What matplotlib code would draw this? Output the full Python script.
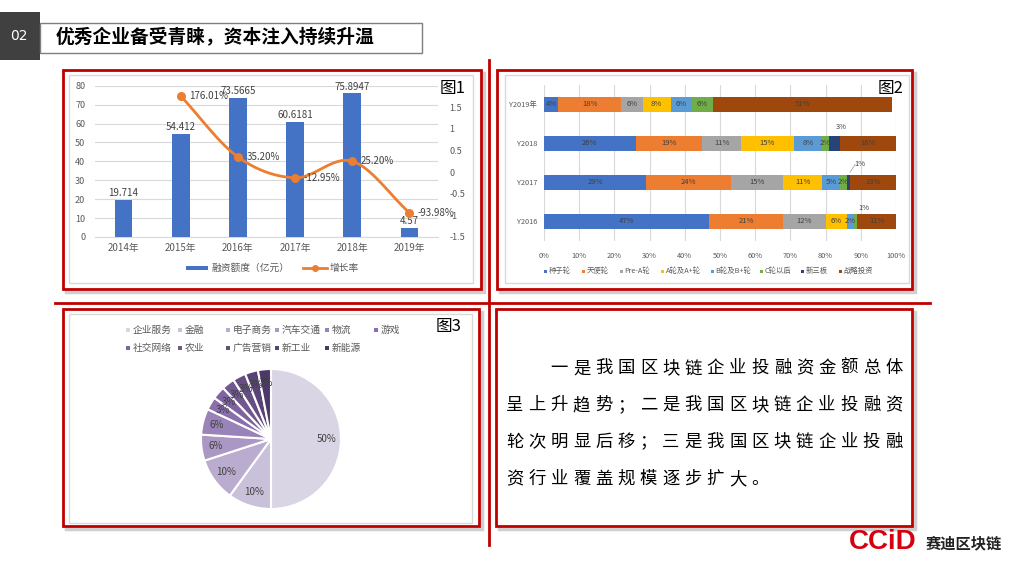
import numpy as np
import matplotlib
matplotlib.use('Agg')
import matplotlib.pyplot as plt
from matplotlib.patches import Rectangle
from matplotlib.colors import to_rgb, to_hex

plt.rcParams['font.family'] = ['Noto Sans CJK SC', 'DejaVu Sans']

W, H = 1013, 568

# ---------------- data ----------------
title_text = '优秀企业备受青睐，资本注入持续升温'
section_no = '02'

years = ['2014年', '2015年', '2016年', '2017年', '2018年', '2019年']
funding = [19.714, 54.412, 73.5665, 60.6181, 75.8947, 4.57]
funding_labels = ['19.714', '54.412', '73.5665', '60.6181', '75.8947', '4.57']
growth_years_idx = [1, 2, 3, 4, 5]
growth = [1.7601, 0.3520, -0.1295, 0.2520, -0.9398]
growth_labels = ['176.01%', '35.20%', '-12.95%', '25.20%', '-93.98%']
left_ticks = [0, 10, 20, 30, 40, 50, 60, 70, 80]
right_ticks = [-1.5, -1, -0.5, 0, 0.5, 1, 1.5]
right_tick_labels = ['-1.5', '-1', '-0.5', '0', '0.5', '1', '1.5']

rounds = ['种子轮', '天使轮', 'Pre-A轮', 'A轮及A+轮', 'B轮及B+轮', 'C轮以后', '新三板', '战略投资']
stack_years = ['Y2016', 'Y2017', 'Y2018', 'Y2019年']
share_2016 = [47, 21, 12, 6, 2, 1, 0, 11]
share_2017 = [29, 24, 15, 11, 5, 2, 1, 13]
share_2018 = [26, 19, 11, 15, 8, 2, 3, 16]
share_2019 = [4, 18, 6, 8, 6, 6, 0, 51]

industries = ['企业服务', '金融', '电子商务', '汽车交通', '物流', '游戏',
              '社交网络', '农业', '广告营销', '新工业', '新能源']
industry_share = [50, 10, 10, 6, 6, 3, 3, 3, 3, 3, 3]

summary_lines = ['一是我国区块链企业投融资金额总体',
                 '呈上升趋势；二是我国区块链企业投融资',
                 '轮次明显后移；三是我国区块链企业投融',
                 '资行业覆盖规模逐步扩大。']

# ---------------- styles ----------------
RED = '#C00000'
GRID = '#d9d9d9'
TICK = '#595959'
LAB = '#404040'
round_colors = ['#4472C4', '#ED7D31', '#A5A5A5', '#FFC000', '#5B9BD5', '#70AD47', '#264478', '#9E480E']


def rect(x0, y0, x1, y1):
    return [x0 / W, 1 - y1 / H, (x1 - x0) / W, (y1 - y0) / H]


fig = plt.figure(figsize=(W / 100, H / 100), dpi=100)
bg = fig.add_axes([0, 0, 1, 1])
bg.set_xlim(0, W)
bg.set_ylim(H, 0)
bg.axis('off')

# header
bg.add_patch(Rectangle((0, 12), 40, 48, color='#404040', lw=0))
bg.text(19, 36, section_no, color='white', fontsize=10, ha='center', va='center',
        family=['DejaVu Sans'])
bg.add_patch(Rectangle((40, 22.5), 382, 30, fill=False, ec='#7f7f7f', lw=1))
bg.text(56, 37.5, title_text, fontsize=13.5, fontweight='bold', ha='left', va='center', color='black')

# red cross
bg.plot([489, 489], [60, 545], color=RED, lw=2)
bg.plot([55, 930], [303, 303], color=RED, lw=2)

# panels with shadow
for (x0, y0, x1, y1) in [(63, 70, 481, 289), (497, 70, 912, 289), (63, 309, 479, 526), (496, 309, 912, 526)]:
    bg.add_patch(Rectangle((x0 + 2.5, y0 + 2.5), x1 - x0, y1 - y0, fill=False, ec='#cfcfcf', lw=2.5))
    bg.add_patch(Rectangle((x0, y0), x1 - x0, y1 - y0, facecolor='white', ec=RED, lw=2))
# inner chart borders
for (x0, y0, x1, y1) in [(69, 75, 473, 283), (505, 75, 909, 283), (69, 314, 472, 523)]:
    bg.add_patch(Rectangle((x0, y0), x1 - x0, y1 - y0, fill=False, ec=GRID, lw=1))

bg.text(453, 88, '图1', fontsize=12, ha='center', va='center', color='black')
bg.text(891, 88, '图2', fontsize=12, ha='center', va='center', color='black')
bg.text(449, 326, '图3', fontsize=12, ha='center', va='center', color='black')

# ---------------- chart 1 ----------------
ax1 = fig.add_axes(rect(95, 85.7, 438, 237))
ax1.patch.set_alpha(0)
x = np.arange(len(years))
ax1.bar(x, funding, width=0.31, color='#4472C4', zorder=3)
ax1.set_xlim(-0.5, 5.5)
ax1.set_ylim(0, 80)
ax1.set_yticks(left_ticks)
ax1.set_xticks(x)
ax1.set_xticklabels(years)
ax1.grid(axis='y', color=GRID, lw=0.8, zorder=0)
for s in ['top', 'right', 'left']:
    ax1.spines[s].set_visible(False)
ax1.spines['bottom'].set_color(GRID)
ax1.tick_params(axis='both', length=0, labelsize=6.5, labelcolor=TICK)
ax1.tick_params(axis='x', pad=4, labelsize=7)
ax1.tick_params(axis='y', pad=7)
for xi, v, lab in zip(x, funding, funding_labels):
    ax1.text(xi, v + 1.0, lab, ha='center', va='bottom', fontsize=7, color=LAB, zorder=5)

ax1r = ax1.twinx()
ax1r.set_ylim(-1.5, 2.0)
ax1r.set_yticks(right_ticks)
ax1r.set_yticklabels(right_tick_labels)
for s in ax1r.spines.values():
    s.set_visible(False)
ax1r.tick_params(axis='y', length=0, labelsize=6.5, labelcolor=TICK, pad=8)


def catmull(xs, ys, n=30):
    P = np.column_stack([xs, ys]).astype(float)
    P = np.vstack([2 * P[0] - P[1], P, 2 * P[-1] - P[-2]])
    out = []
    t = np.linspace(0, 1, n)[:, None]
    for i in range(1, len(P) - 2):
        p0, p1, p2, p3 = P[i - 1], P[i], P[i + 1], P[i + 2]
        seg = 0.5 * (2 * p1 + (-p0 + p2) * t + (2 * p0 - 5 * p1 + 4 * p2 - p3) * t ** 2
                     + (-p0 + 3 * p1 - 3 * p2 + p3) * t ** 3)
        out.append(seg)
    return np.vstack(out)


curve = catmull(growth_years_idx, growth)
ax1r.plot(curve[:, 0], curve[:, 1], color='#ED7D31', lw=2, zorder=4)
ax1r.plot(growth_years_idx, growth, 'o', color='#ED7D31', ms=5.5, zorder=5)
for xi, v, lab in zip(growth_years_idx, growth, growth_labels):
    ax1r.annotate(lab, (xi, v), xytext=(6, 0), textcoords='offset points', va='center',
                  ha='left', fontsize=7, color=LAB, zorder=6)

# legend chart 1
bg.add_patch(Rectangle((186, 266.3), 22, 4, color='#4472C4', lw=0))
bg.text(211, 268, '融资额度（亿元）', fontsize=7, color=TICK, va='center', ha='left')
bg.plot([303, 327], [268, 268], color='#ED7D31', lw=2)
bg.plot([315], [268], 'o', color='#ED7D31', ms=4)
bg.text(330, 268, '增长率', fontsize=7, color=TICK, va='center', ha='left')

# ---------------- chart 2 ----------------
ax2 = fig.add_axes(rect(544, 85, 896, 241))
ax2.patch.set_alpha(0)
shares = np.array([share_2016, share_2017, share_2018, share_2019], dtype=float)
yy = np.arange(len(stack_years))
left = np.zeros(len(stack_years))
outside = {(0, 5): (8, 13, False), (1, 6): (11, 18, True), (2, 6): (7, 16, False)}
for j, (rname, col) in enumerate(zip(rounds, round_colors)):
    vals = shares[:, j]
    ax2.barh(yy, vals, left=left, height=0.41, color=col, zorder=3)
    for i in range(len(stack_years)):
        v = vals[i]
        if v <= 0:
            continue
        cx = left[i] + v / 2
        if (i, j) in outside:
            dx, dy, leader = outside[(i, j)]
            ax2.annotate(f'{v:.0f}%', (cx, yy[i]), xytext=(dx * 0.72, dy * 0.72),
                         textcoords='offset points', ha='center', va='center',
                         fontsize=5.5, color=LAB, zorder=5)
            if leader:
                ax2.annotate('', (cx, yy[i] + 0.205), xytext=(dx * 0.72 - 2, dy * 0.72 - 14 * 0.72 + 6),
                             textcoords='offset points',
                             arrowprops=dict(arrowstyle='-', color='#a6a6a6', lw=0.6), zorder=5)
        else:
            ax2.text(cx, yy[i], f'{v:.0f}%', ha='center', va='center', fontsize=5.5, color=LAB, zorder=5)
    left += vals
ax2.set_xlim(0, 100)
ax2.set_ylim(-0.5, 3.5)
ax2.set_xticks(np.arange(0, 101, 10))
ax2.set_xticklabels([f'{t}%' for t in range(0, 101, 10)])
ax2.set_yticks(yy)
ax2.set_yticklabels(stack_years)
ax2.grid(axis='x', color=GRID, lw=0.8, zorder=0)
for s in ax2.spines.values():
    s.set_visible(False)
ax2.tick_params(axis='both', length=0, labelsize=5.3, labelcolor=TICK)
ax2.tick_params(axis='x', pad=8)
ax2.tick_params(axis='y', pad=5)

leg2_x = [545, 583, 621, 662, 712, 761, 802, 840]
for xx, rname, col in zip(leg2_x, rounds, round_colors):
    bg.add_patch(Rectangle((xx - 1.5, 269.5), 3.5, 3.5, color=col, lw=0))
    bg.text(xx + 3.5, 271.2, rname, fontsize=5.3, color=TICK, va='center', ha='left')

# ---------------- chart 3 ----------------
cx3, cy3, R = 271, 439, 70
ax3 = fig.add_axes(rect(cx3 - 72, cy3 - 72, cx3 + 72, cy3 + 72))
ax3.set_aspect('equal')
stops = [np.array(to_rgb(c)) for c in ('#D9D5E5', '#8A6EAD', '#4C3868')]
n_ind = len(industries)
pie_colors = []
for k in range(n_ind):
    f = k / (n_ind - 1) * 2
    if f <= 1:
        c = stops[0] + (stops[1] - stops[0]) * f
    else:
        c = stops[1] + (stops[2] - stops[1]) * (f - 1)
    pie_colors.append(to_hex(c))
ax3.pie(industry_share, colors=pie_colors, startangle=90, counterclock=False, radius=1.0,
        wedgeprops=dict(edgecolor='white', linewidth=1.5),
        autopct=lambda p: f'{p:.0f}%', pctdistance=0.8,
        textprops=dict(fontsize=7, color=LAB))
ax3.set_xlim(-72 / R, 72 / R)
ax3.set_ylim(-72 / R, 72 / R)
ax3.axis('off')

leg3_pos = [(128, 330), (180, 330), (228, 330), (277, 330), (327, 330), (376, 330),
            (128, 348), (180, 348), (228, 348), (277, 348), (327, 348)]
for (lx, ly), name, col in zip(leg3_pos, industries, pie_colors):
    bg.add_patch(Rectangle((lx - 2, ly - 2), 4, 4, color=col, lw=0))
    bg.text(lx + 5, ly, name, fontsize=7, color=TICK, va='center', ha='left')

# ---------------- text panel ----------------
line_y = [368.3, 405, 441.7, 479]
adv = 22.3
for k, (line, ly) in enumerate(zip(summary_lines, line_y)):
    start = 506 + (2 * adv if k == 0 else 0)
    for ci, ch in enumerate(line):
        bg.text(start + ci * adv + 8.7, ly, ch, fontsize=12.5, ha='center', va='center', color='black')

# ---------------- logo ----------------
bg.text(849, 542, 'CCiD', fontsize=20, fontweight='bold', color='#D7000F', ha='left', va='center',
        family=['Liberation Sans Narrow', 'Liberation Sans', 'DejaVu Sans'])
bg.text(926, 543, '赛迪区块链', fontsize=11, fontweight='bold', color='#222222', ha='left', va='center')

fig.savefig('out.png', dpi=100)
